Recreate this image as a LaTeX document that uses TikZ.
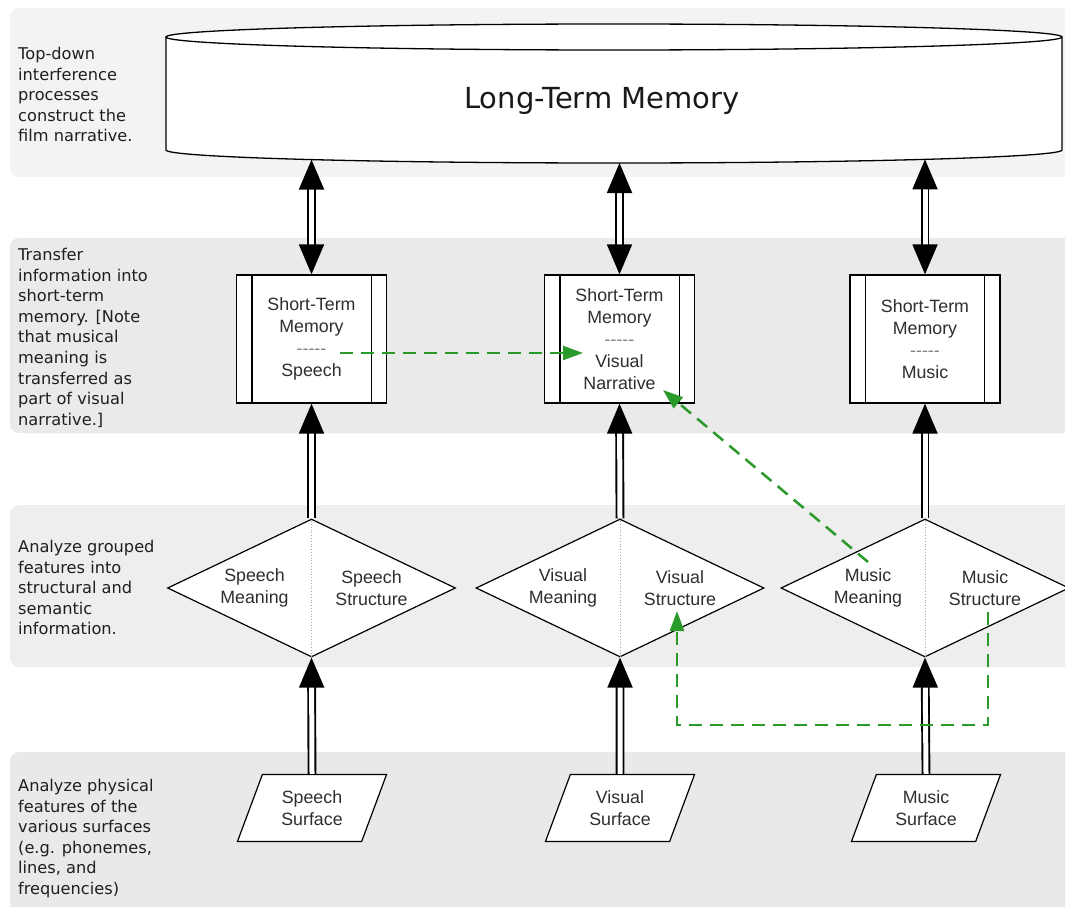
\documentclass[tikz,border=0pt]{standalone}
\usepackage{fontspec}
\setmainfont{Liberation Sans}
\newfontfamily\dvfont{DejaVu Sans}
\usetikzlibrary{shapes.geometric,arrows.meta,calc}
\definecolor{bandA}{HTML}{F3F3F3}
\definecolor{bandB}{HTML}{EAEAEA}
\definecolor{bandC}{HTML}{EEEEEE}
\definecolor{bandD}{HTML}{E9E9E9}
\definecolor{grn}{HTML}{2A9A2A}
\definecolor{txt}{HTML}{2E2E2E}
\begin{document}
\begin{tikzpicture}[x=1pt,y=-1pt,
  band/.style={rounded corners=9pt},
  lefttext/.style={anchor=north west, inner sep=0pt, align=left, text=black!88,
    font=\dvfont\fontsize{16.2}{20.6}\selectfont},
  stm/.style={draw, line width=1.3pt, fill=white, minimum width=150pt, minimum height=128pt,
    inner sep=0pt, align=center, text=txt, font=\fontsize{17.8}{22}\selectfont},
  dia/.style={diamond, draw, line width=1.2pt, fill=white, minimum width=288pt,
    minimum height=138pt, inner sep=0pt},
  dtext/.style={align=center, inner sep=0pt, text=txt, font=\fontsize{17.8}{21.5}\selectfont},
  surf/.style={trapezium, trapezium left angle=66, trapezium right angle=114,
    trapezium stretches=true, draw, line width=1.2pt, fill=white, minimum width=150pt,
    minimum height=67pt, inner sep=0pt, align=center, text=txt,
    font=\fontsize{17.8}{21.5}\selectfont},
  dbl/.style={draw=black, line width=1.9pt, double=white, double distance=5pt},
  >={Triangle[length=30pt,width=25pt]},
  gr/.style={draw=grn, line width=2.5pt, dash pattern=on 13pt off 8pt,
    -{Triangle[length=20pt,width=14pt]}},
  sep/.style={draw=gray!70, dotted, line width=0.8pt}
]
\useasboundingbox (0,0) rectangle (1065,907);
\fill[white] (0,0) rectangle (1065,907);
% bands
\fill[bandA, band] (10,8) rectangle (1090,177);
\fill[bandB, band] (10,238) rectangle (1090,433);
\fill[bandC, band] (10,505) rectangle (1090,667);
\fill[bandD, band] (10,752) rectangle (1090,930);
% left texts
\node[lefttext] (t1) at (18,47) {Top-down\\interference\\processes\\construct the\\film narrative.};
\node[lefttext] (t2) at (18,248) {Transfer\\information into\\short-term\\memory. [Note\\that musical\\meaning is\\transferred as\\part of visual\\narrative.]};
\node[lefttext] (t3) at (18,540) {Analyze grouped\\features into\\structural and\\semantic\\information.};
\node[lefttext] (t4) at (18,779) {Analyze physical\\features of the\\various surfaces\\(e.g. phonemes,\\lines, and\\frequencies)};
% cylinder (long-term memory)
\path[fill=white, draw=black, line width=1.3pt] (166,37) -- (166,150)
  .. controls (166,157.2) and (366.6,163) .. (614,163)
  .. controls (861.4,163) and (1062,157.2) .. (1062,150) -- (1062,37);
\draw[fill=white, line width=1.3pt] (614,37) ellipse [x radius=448, y radius=13];
\node[font=\dvfont\fontsize{29}{33}\selectfont, text=black!90] (ltm) at (602,101) {Long-Term Memory};
\coordinate (ltm1) at (311.5,159.6);
\coordinate (ltm2) at (619.5,163);
\coordinate (ltm3) at (925,159.4);
% short-term memory boxes
\node[stm] (stm1) at (311.5,339) {Short-Term\\Memory\\{\color{gray}-{}-{}-{}-{}-}\\Speech};
\node[stm] (stm2) at (619.5,339) {Short-Term\\Memory\\{\color{gray}-{}-{}-{}-{}-}\\Visual\\Narrative};
\node[stm] (stm3) at (925,339) {Short-Term\\Memory\\{\color{gray}-{}-{}-{}-{}-}\\Music};
\foreach \b in {stm1,stm2,stm3}{
  \draw[line width=1.3pt] ([xshift=16pt]\b.north west) -- ([xshift=16pt]\b.south west);
  \draw[line width=1.3pt] ([xshift=-16pt]\b.north east) -- ([xshift=-16pt]\b.south east);
}
% diamonds
\node[dia] (d1) at (311.5,588) {};
\node[dia] (d2) at (620,588) {};
\node[dia] (d3) at (925,588) {};
\foreach \d in {d1,d2,d3}{ \draw[sep] (\d.north) -- (\d.south); }
\node[dtext] (d1m) at ($(d1)+(-57,0)$) {Speech\\Meaning};
\node[dtext] (d1s) at ($(d1)+(60,0)$) {Speech\\Structure};
\node[dtext] (d2m) at ($(d2)+(-57,0)$) {Visual\\Meaning};
\node[dtext] (d2s) at ($(d2)+(60,0)$) {Visual\\Structure};
\node[dtext] (d3m) at ($(d3)+(-57,0)$) {Music\\Meaning};
\node[dtext] (d3s) at ($(d3)+(60,0)$) {Music\\Structure};
% surfaces
\node[surf] (s1) at (312,808) {Speech\\Surface};
\node[surf] (s2) at (620,808) {Visual\\Surface};
\node[surf] (s3) at (926,808) {Music\\Surface};
% double arrows
\draw[dbl, <->] (ltm1) -- (stm1.north);
\draw[dbl, <->] (ltm2) -- (stm2.north);
\draw[dbl, <->] (ltm3) -- (stm3.north);
\draw[dbl, ->] (d1.north) -- (stm1.south);
\draw[dbl, ->] (d2.north) -- (stm2.south);
\draw[dbl, ->] (d3.north) -- (stm3.south);
\draw[dbl, ->] (s1.north) -- (d1.south);
\draw[dbl, ->] (s2.north) -- (d2.south);
\draw[dbl, ->] (s3.north) -- (d3.south);
% green dashed arrows
\coordinate (g1s) at (340,353);
\coordinate (g1e) at (583,353);
\draw[gr] (g1s) -- (g1e);
\coordinate (g2s) at (868,562);
\coordinate (g2e) at (663,390);
\draw[gr] (g2s) -- (g2e);
\coordinate (g3s) at (988,612);
\coordinate (g3c) at (677,725);
\coordinate (g3e) at (677,611);
\draw[gr] (g3s) |- (g3c) -- (g3e);
\end{tikzpicture}
\end{document}
